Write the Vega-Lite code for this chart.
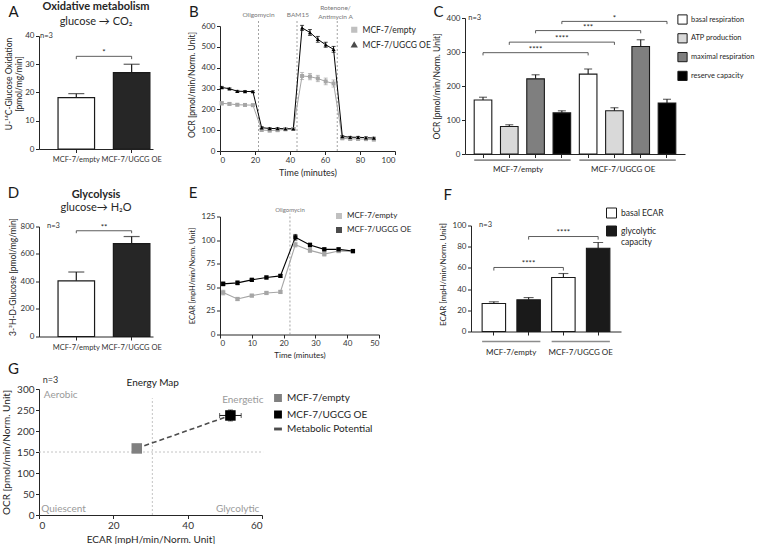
{
"$schema": "https://vega.github.io/schema/vega-lite/v6.json",
"padding": {"left": 1, "top": 0, "right": 0, "bottom": 0},
"background": "white",
"config": {
 "font": "Lato",
 "view": {"stroke": null},
 "axis": {"grid": false, "domainColor": "#262626", "tickColor": "#262626", "labelColor": "#333333", "titleColor": "#262626", "labelFontSize": 8, "titleFontSize": 8.5, "titleFontWeight": "normal", "tickSize": 3.5, "labelPadding": 1.5, "titlePadding": 4, "domainWidth": 1, "tickWidth": 1, "labelOverlap": false},
 "legend": {"labelFontSize": 8.5, "labelColor": "#262626", "rowPadding": 3, "labelLimit": 300},
 "text": {"color": "#262626"}
},
"datasets": {
 "A": [{"group": "MCF-7/empty", "v": 18.2, "hi": 19.6}, {"group": "MCF-7/UGCG OE", "v": 27.0, "hi": 30.0}],
 "A_sig": [{"a": "MCF-7/empty", "b": "MCF-7/UGCG OE", "y": 32.8, "y0": 31.8, "ty": 33.1, "s": "*"}],
 "D": [{"group": "MCF-7/empty", "v": 405, "hi": 469}, {"group": "MCF-7/UGCG OE", "v": 676, "hi": 727}],
 "D_sig": [{"a": "MCF-7/empty", "b": "MCF-7/UGCG OE", "y": 769, "y0": 751, "ty": 773, "s": "**"}],
 "B": [
  {"series": "MCF-7/empty", "t": 1.0, "v": 229, "sd": 8}, {"series": "MCF-7/empty", "t": 5.4, "v": 226, "sd": 6},
  {"series": "MCF-7/empty", "t": 9.9, "v": 222, "sd": 5}, {"series": "MCF-7/empty", "t": 14.3, "v": 221, "sd": 5},
  {"series": "MCF-7/empty", "t": 18.8, "v": 220, "sd": 5}, {"series": "MCF-7/empty", "t": 23.8, "v": 101, "sd": 6},
  {"series": "MCF-7/empty", "t": 28.4, "v": 98, "sd": 6}, {"series": "MCF-7/empty", "t": 32.9, "v": 100, "sd": 6},
  {"series": "MCF-7/empty", "t": 37.4, "v": 104, "sd": 4}, {"series": "MCF-7/empty", "t": 41.9, "v": 106, "sd": 4},
  {"series": "MCF-7/empty", "t": 46.9, "v": 360, "sd": 17}, {"series": "MCF-7/empty", "t": 51.4, "v": 357, "sd": 15},
  {"series": "MCF-7/empty", "t": 55.9, "v": 348, "sd": 15}, {"series": "MCF-7/empty", "t": 60.4, "v": 334, "sd": 16},
  {"series": "MCF-7/empty", "t": 64.9, "v": 324, "sd": 17}, {"series": "MCF-7/empty", "t": 69.9, "v": 61, "sd": 6},
  {"series": "MCF-7/empty", "t": 74.4, "v": 58, "sd": 6}, {"series": "MCF-7/empty", "t": 78.9, "v": 58, "sd": 6},
  {"series": "MCF-7/empty", "t": 83.4, "v": 57, "sd": 6}, {"series": "MCF-7/empty", "t": 87.9, "v": 55, "sd": 6},
  {"series": "MCF-7/UGCG OE", "t": 1.0, "v": 305, "sd": 5}, {"series": "MCF-7/UGCG OE", "t": 5.4, "v": 299, "sd": 4},
  {"series": "MCF-7/UGCG OE", "t": 9.9, "v": 287, "sd": 4}, {"series": "MCF-7/UGCG OE", "t": 14.3, "v": 286, "sd": 4},
  {"series": "MCF-7/UGCG OE", "t": 18.8, "v": 285, "sd": 4}, {"series": "MCF-7/UGCG OE", "t": 23.8, "v": 112, "sd": 5},
  {"series": "MCF-7/UGCG OE", "t": 28.4, "v": 108, "sd": 4}, {"series": "MCF-7/UGCG OE", "t": 32.9, "v": 108, "sd": 4},
  {"series": "MCF-7/UGCG OE", "t": 37.4, "v": 107, "sd": 4}, {"series": "MCF-7/UGCG OE", "t": 41.9, "v": 107, "sd": 4},
  {"series": "MCF-7/UGCG OE", "t": 46.9, "v": 591, "sd": 12}, {"series": "MCF-7/UGCG OE", "t": 51.4, "v": 569, "sd": 14},
  {"series": "MCF-7/UGCG OE", "t": 55.9, "v": 536, "sd": 14}, {"series": "MCF-7/UGCG OE", "t": 60.4, "v": 510, "sd": 12},
  {"series": "MCF-7/UGCG OE", "t": 64.9, "v": 488, "sd": 14}, {"series": "MCF-7/UGCG OE", "t": 69.9, "v": 70, "sd": 4},
  {"series": "MCF-7/UGCG OE", "t": 74.4, "v": 66, "sd": 4}, {"series": "MCF-7/UGCG OE", "t": 78.9, "v": 66, "sd": 4},
  {"series": "MCF-7/UGCG OE", "t": 83.4, "v": 64, "sd": 4}, {"series": "MCF-7/UGCG OE", "t": 87.9, "v": 62, "sd": 4}
 ],
 "E": [
  {"series": "MCF-7/empty", "t": 1.0, "v": 44.4, "sd": 2.5}, {"series": "MCF-7/empty", "t": 5.5, "v": 37.6, "sd": 1.5},
  {"series": "MCF-7/empty", "t": 10.0, "v": 41.2, "sd": 1.2}, {"series": "MCF-7/empty", "t": 14.6, "v": 44.0, "sd": 1.2},
  {"series": "MCF-7/empty", "t": 19.0, "v": 45.1, "sd": 1.2}, {"series": "MCF-7/empty", "t": 23.7, "v": 95.2, "sd": 2.5},
  {"series": "MCF-7/empty", "t": 28.3, "v": 89.1, "sd": 2}, {"series": "MCF-7/empty", "t": 32.8, "v": 85.2, "sd": 2},
  {"series": "MCF-7/empty", "t": 37.3, "v": 88.4, "sd": 1.5}, {"series": "MCF-7/empty", "t": 41.8, "v": 88.1, "sd": 1.5},
  {"series": "MCF-7/UGCG OE", "t": 1.0, "v": 53.6, "sd": 2}, {"series": "MCF-7/UGCG OE", "t": 5.5, "v": 54.7, "sd": 2},
  {"series": "MCF-7/UGCG OE", "t": 10.0, "v": 57.9, "sd": 1.5}, {"series": "MCF-7/UGCG OE", "t": 14.6, "v": 60.4, "sd": 1.5},
  {"series": "MCF-7/UGCG OE", "t": 19.0, "v": 62.1, "sd": 1.5}, {"series": "MCF-7/UGCG OE", "t": 23.7, "v": 103.0, "sd": 3},
  {"series": "MCF-7/UGCG OE", "t": 28.3, "v": 94.8, "sd": 2}, {"series": "MCF-7/UGCG OE", "t": 32.8, "v": 90.2, "sd": 1.5},
  {"series": "MCF-7/UGCG OE", "t": 37.3, "v": 90.2, "sd": 1.5}, {"series": "MCF-7/UGCG OE", "t": 41.8, "v": 88.4, "sd": 1.5}
 ],
 "C": [
  {"bar": "e1", "m": "basal respiration", "v": 159, "hi": 167},
  {"bar": "e2", "m": "ATP production", "v": 81, "hi": 86},
  {"bar": "e3", "m": "maximal respiration", "v": 221, "hi": 233},
  {"bar": "e4", "m": "reserve capacity", "v": 121, "hi": 127},
  {"bar": "o1", "m": "basal respiration", "v": 235, "hi": 250},
  {"bar": "o2", "m": "ATP production", "v": 127, "hi": 136},
  {"bar": "o3", "m": "maximal respiration", "v": 316, "hi": 336},
  {"bar": "o4", "m": "reserve capacity", "v": 150, "hi": 161}
 ],
 "C_sig": [
  {"a": "e1", "b": "o1", "mid": "e3", "y": 298, "y0": 290, "ty": 300, "s": "****"},
  {"a": "e2", "b": "o2", "mid": "e4", "y": 329, "y0": 321, "ty": 331, "s": "****"},
  {"a": "e3", "b": "o3", "mid": "o1", "y": 363, "y0": 355, "ty": 365, "s": "***"},
  {"a": "e4", "b": "o4", "mid": "o2", "y": 390, "y0": 382, "ty": 392, "s": "*"}
 ],
 "C_grp": [
  {"a": "e1", "b": "e4", "y": -18, "lx": "e2", "ly": -47, "label": "MCF-7/empty"},
  {"a": "o1", "b": "o4", "y": -18, "lx": "o2", "ly": -47, "label": "MCF-7/UGCG OE"}
 ],
 "F": [
  {"bar": "eb", "m": "basal ECAR", "v": 26.4, "hi": 28},
  {"bar": "eg", "m": "glycolytic capacity", "v": 29.9, "hi": 32},
  {"bar": "ob", "m": "basal ECAR", "v": 51, "hi": 54.7},
  {"bar": "og", "m": "glycolytic capacity", "v": 78.6, "hi": 84}
 ],
 "F_sig": [
  {"a": "eb", "b": "ob", "mid": "eg", "y": 60.4, "y0": 57.5, "ty": 61.6, "s": "****"},
  {"a": "eg", "b": "og", "mid": "ob", "y": 89.6, "y0": 86.7, "ty": 90.8, "s": "****"}
 ],
 "F_grp": [
  {"a": "eb", "b": "eg", "y": -9.5, "lx": "eb", "ly": -20, "label": "MCF-7/empty"},
  {"a": "ob", "b": "og", "y": -9.5, "lx": "ob", "ly": -20, "label": "MCF-7/UGCG OE"}
 ],
 "G_pts": [
  {"series": "MCF-7/empty", "ecar": 26.3, "ocr": 158.5, "ex": 1, "ey": 4},
  {"series": "MCF-7/UGCG OE", "ecar": 51.5, "ocr": 237, "ex": 2.9, "ey": 13}
 ],
 "G_line": [
  {"series": "Metabolic Potential", "ecar": 26.3, "ocr": 158.5},
  {"series": "Metabolic Potential", "ecar": 51.5, "ocr": 237}
 ]
},
"spacing": 8.5,
"bounds": "full",
"resolve": {"scale": {"color": "independent", "fill": "independent", "shape": "independent"}},
"vconcat": [
 {
  "hconcat": [
   {
    "width": 114, "height": 131,
    "layer": [
     {"data": {"name": "A"}, "mark": {"type": "bar", "stroke": "#1a1a1a", "strokeWidth": 1.2},
      "encoding": {
       "x": {"field": "group", "type": "nominal", "sort": null, "scale": {"paddingInner": 0.34, "paddingOuter": 0.2, "align": 0.86}, "axis": {"title": null, "labelAngle": 0, "labelFontSize": 7.5, "labelPadding": 3}},
       "y": {"field": "v", "type": "quantitative", "scale": {"domain": [0, 46.37], "nice": false}, "axis": {"title": ["U-¹⁴C-Glucose Oxidation", "[pmol/mg/min]"], "values": [0, 10, 20, 30, 40], "tickCount": 50, "titlePadding": 1, "domainDash": [113, 1000]}},
       "fill": {"field": "group", "type": "nominal", "sort": null, "scale": {"range": ["#ffffff", "#262626"]}, "legend": null}}},
     {"data": {"name": "A"}, "mark": {"type": "rule", "color": "#1a1a1a", "strokeWidth": 1.2},
      "encoding": {"x": {"field": "group", "type": "nominal", "sort": null}, "y": {"field": "v", "type": "quantitative"}, "y2": {"field": "hi"}}},
     {"data": {"name": "A"}, "mark": {"type": "tick", "color": "#1a1a1a", "thickness": 1.2, "size": 16},
      "encoding": {"x": {"field": "group", "type": "nominal", "sort": null}, "y": {"field": "hi", "type": "quantitative"}}},
     {"data": {"name": "A_sig"}, "mark": {"type": "rule", "color": "#333333", "strokeWidth": 0.8},
      "encoding": {"x": {"field": "a", "type": "nominal", "sort": null}, "x2": {"field": "b"}, "y": {"field": "y", "type": "quantitative"}}},
     {"data": {"name": "A_sig"}, "mark": {"type": "rule", "color": "#333333", "strokeWidth": 0.8},
      "encoding": {"x": {"field": "a", "type": "nominal", "sort": null}, "y": {"field": "y", "type": "quantitative"}, "y2": {"field": "y0"}}},
     {"data": {"name": "A_sig"}, "mark": {"type": "rule", "color": "#333333", "strokeWidth": 0.8},
      "encoding": {"x": {"field": "b", "type": "nominal", "sort": null}, "y": {"field": "y", "type": "quantitative"}, "y2": {"field": "y0"}}},
     {"data": {"name": "A_sig"}, "mark": {"type": "text", "fontSize": 8, "baseline": "alphabetic"},
      "encoding": {"x": {"field": "a", "type": "nominal", "sort": null, "bandPosition": 1.26}, "y": {"field": "ty", "type": "quantitative"}, "text": {"field": "s"}}},
     {"data": {"values": [{"g": "MCF-7/empty", "y": 40, "t": "n=3"}]}, "mark": {"type": "text", "fontSize": 7.5, "align": "left", "dx": -18, "color": "#333333"},
      "encoding": {"x": {"field": "g", "type": "nominal", "sort": null, "bandPosition": 0}, "y": {"field": "y", "type": "quantitative"}, "text": {"field": "t"}}},
     {"data": {"values": [{"g": "MCF-7/empty", "y": 48.5, "t": "A"}]}, "mark": {"type": "text", "fontSize": 15, "color": "#1a1a1a"},
      "encoding": {"x": {"field": "g", "type": "nominal", "sort": null, "bandPosition": -1.219}, "y": {"field": "y", "type": "quantitative"}, "text": {"field": "t"}}},
     {"data": {"values": [{"y": 50.3, "t": "Oxidative metabolism"}]}, "mark": {"type": "text", "fontSize": 11, "fontWeight": "bold"},
      "encoding": {"y": {"field": "y", "type": "quantitative"}, "text": {"field": "t"}}},
     {"data": {"values": [{"y": 45, "t": "glucose → CO₂"}]}, "mark": {"type": "text", "fontSize": 11},
      "encoding": {"y": {"field": "y", "type": "quantitative"}, "text": {"field": "t"}}}
    ]
   },
   {
    "hconcat": [
     {
      "width": 175, "height": 133,
      "layer": [
       {"data": {"values": [{"t": 22, "y0": 0, "y1": 630}, {"t": 44, "y0": 0, "y1": 630}, {"t": 67, "y0": 0, "y1": 630}]},
        "mark": {"type": "rule", "strokeDash": [2, 2], "color": "#8c8c8c", "strokeWidth": 0.8},
        "encoding": {
         "x": {"field": "t", "type": "quantitative", "scale": {"domain": [0, 100], "nice": false}, "axis": {"title": "Time (minutes)", "values": [0, 20, 40, 60, 80, 100], "tickCount": 50, "titleFontSize": 9}},
         "y": {"field": "y0", "type": "quantitative", "scale": {"domain": [0, 638.4], "nice": false}, "axis": {"title": "OCR [pmol/min/Norm. Unit]", "values": [0, 100, 200, 300, 400, 500, 600], "tickCount": 50, "titlePadding": 5, "domainDash": [125, 1000]}},
         "y2": {"field": "y1"}}},
       {"data": {"values": [{"t": 22, "y": 651, "label": "Oligomycin"}, {"t": 44.5, "y": 651, "label": "BAM15"}, {"t": 66, "y": 686, "label": "Rotenone/"}, {"t": 66, "y": 643, "label": "Antimycin A"}]},
        "mark": {"type": "text", "fontSize": 6.5, "color": "#777777"},
        "encoding": {"x": {"field": "t", "type": "quantitative"}, "y": {"field": "y", "type": "quantitative"}, "text": {"field": "label"}}},
       {"data": {"values": [{"t": -14.9, "y": 667, "label": "B"}]},
        "mark": {"type": "text", "fontSize": 15, "color": "#1a1a1a"},
        "encoding": {"x": {"field": "t", "type": "quantitative"}, "y": {"field": "y", "type": "quantitative"}, "text": {"field": "label"}}},
       {"data": {"name": "B"}, "mark": {"type": "errorbar", "ticks": true, "size": 4, "thickness": 1},
        "encoding": {"x": {"field": "t", "type": "quantitative", "title": "Time (minutes)"}, "y": {"field": "v", "type": "quantitative", "title": "OCR [pmol/min/Norm. Unit]"}, "yError": {"field": "sd"},
         "color": {"field": "series", "type": "nominal", "scale": {"domain": ["MCF-7/empty", "MCF-7/UGCG OE"], "range": ["#a6a6a6", "#000000"]}}}},
       {"data": {"name": "B"}, "mark": {"type": "line", "strokeWidth": 1},
        "encoding": {"x": {"field": "t", "type": "quantitative"}, "y": {"field": "v", "type": "quantitative"}, "color": {"field": "series", "type": "nominal"}}},
       {"data": {"name": "B"}, "mark": {"type": "point", "filled": true, "size": 16, "opacity": 1},
        "encoding": {"x": {"field": "t", "type": "quantitative"}, "y": {"field": "v", "type": "quantitative"},
         "color": {"field": "series", "type": "nominal", "legend": {"orient": "none", "legendX": 130, "legendY": 7.5, "title": null, "symbolSize": 22, "rowPadding": 4}},
         "shape": {"field": "series", "type": "nominal", "scale": {"domain": ["MCF-7/empty", "MCF-7/UGCG OE"], "range": ["square", "triangle-up"]}, "legend": {"orient": "none", "legendX": 130, "legendY": 7.5, "title": null, "symbolSize": 22, "rowPadding": 4}}}}
      ]
     },
     {
      "width": 220, "height": 136,
      "layer": [
       {"data": {"name": "C"}, "mark": {"type": "bar", "stroke": "#1a1a1a", "strokeWidth": 1.1},
        "encoding": {
         "x": {"field": "bar", "type": "nominal", "sort": null, "scale": {"paddingInner": 0.33, "paddingOuter": 0.35}, "axis": {"title": null, "labels": false}},
         "y": {"field": "v", "type": "quantitative", "scale": {"domain": [0, 400], "nice": false}, "axis": {"title": "OCR [pmol/min/Norm. Unit]", "values": [0, 100, 200, 300, 400], "tickCount": 50, "titlePadding": 5}},
         "fill": {"field": "m", "type": "nominal", "scale": {"domain": ["basal respiration", "ATP production", "maximal respiration", "reserve capacity"], "range": ["#ffffff", "#d9d9d9", "#7f7f7f", "#000000"]},
          "legend": {"orient": "none", "legendX": 212, "legendY": -4, "title": null, "symbolType": "square", "symbolSize": 85, "symbolStrokeColor": "#1a1a1a", "symbolStrokeWidth": 1, "rowPadding": 3.8, "labelFontSize": 7.4, "labelOffset": 3}}}},
       {"data": {"name": "C"}, "mark": {"type": "rule", "color": "#1a1a1a", "strokeWidth": 1.1},
        "encoding": {"x": {"field": "bar", "type": "nominal", "sort": null}, "y": {"field": "v", "type": "quantitative"}, "y2": {"field": "hi"}}},
       {"data": {"name": "C"}, "mark": {"type": "tick", "color": "#1a1a1a", "thickness": 1.1, "size": 8},
        "encoding": {"x": {"field": "bar", "type": "nominal", "sort": null}, "y": {"field": "hi", "type": "quantitative"}}},
       {"data": {"name": "C_sig"}, "mark": {"type": "rule", "color": "#333333", "strokeWidth": 0.8},
        "encoding": {"x": {"field": "a", "type": "nominal", "sort": null}, "x2": {"field": "b"}, "y": {"field": "y", "type": "quantitative"}}},
       {"data": {"name": "C_sig"}, "mark": {"type": "rule", "color": "#333333", "strokeWidth": 0.8},
        "encoding": {"x": {"field": "a", "type": "nominal", "sort": null}, "y": {"field": "y", "type": "quantitative"}, "y2": {"field": "y0"}}},
       {"data": {"name": "C_sig"}, "mark": {"type": "rule", "color": "#333333", "strokeWidth": 0.8},
        "encoding": {"x": {"field": "b", "type": "nominal", "sort": null}, "y": {"field": "y", "type": "quantitative"}, "y2": {"field": "y0"}}},
       {"data": {"name": "C_sig"}, "mark": {"type": "text", "fontSize": 8, "baseline": "alphabetic"},
        "encoding": {"x": {"field": "mid", "type": "nominal", "sort": null}, "y": {"field": "ty", "type": "quantitative"}, "text": {"field": "s"}}},
       {"data": {"name": "C_grp"}, "mark": {"type": "rule", "color": "#8c8c8c", "strokeWidth": 1.6},
        "encoding": {"x": {"field": "a", "type": "nominal", "sort": null, "bandPosition": 0}, "x2": {"field": "b", "bandPosition": 1}, "y": {"field": "y", "type": "quantitative"}}},
       {"data": {"name": "C_grp"}, "mark": {"type": "text", "fontSize": 8},
        "encoding": {"x": {"field": "lx", "type": "nominal", "sort": null, "bandPosition": 1}, "y": {"field": "ly", "type": "quantitative"}, "text": {"field": "label"}}},
       {"data": {"values": [{"g": "e1", "y": 400, "t": "n=3"}]}, "mark": {"type": "text", "fontSize": 7.5, "align": "left", "dx": -6, "color": "#333333"},
        "encoding": {"x": {"field": "g", "type": "nominal", "sort": null, "bandPosition": 0}, "y": {"field": "y", "type": "quantitative"}, "text": {"field": "t"}}},
       {"data": {"values": [{"g": "e1", "y": 417.6, "t": "C"}]}, "mark": {"type": "text", "fontSize": 15, "color": "#1a1a1a"},
        "encoding": {"x": {"field": "g", "type": "nominal", "sort": null, "bandPosition": -2.02}, "y": {"field": "y", "type": "quantitative"}, "text": {"field": "t"}}}
      ]
     }
    ],
    "spacing": 1,
    "bounds": "full",
    "resolve": {"scale": {"color": "independent", "fill": "independent", "shape": "independent"}}
   }
  ],
  "spacing": 25,
  "bounds": "full",
  "resolve": {"scale": {"color": "independent", "fill": "independent", "shape": "independent"}}
 },
 {
  "vconcat": [
   {
    "hconcat": [
     {
      "width": 114, "height": 120,
      "layer": [
       {"data": {"name": "D"}, "mark": {"type": "bar", "stroke": "#1a1a1a", "strokeWidth": 1.2},
        "encoding": {
         "x": {"field": "group", "type": "nominal", "sort": null, "scale": {"paddingInner": 0.34, "paddingOuter": 0.2, "align": 0.86}, "axis": {"title": null, "labelAngle": 0, "labelFontSize": 7.5, "labelPadding": 3}},
         "y": {"field": "v", "type": "quantitative", "scale": {"domain": [0, 872.7], "nice": false}, "axis": {"title": "3-³H-D-Glucose [pmol/mg/min]", "values": [0, 200, 400, 600, 800], "tickCount": 50, "titlePadding": 3, "domainDash": [110, 1000]}},
         "fill": {"field": "group", "type": "nominal", "sort": null, "scale": {"range": ["#ffffff", "#262626"]}, "legend": null}}},
       {"data": {"name": "D"}, "mark": {"type": "rule", "color": "#1a1a1a", "strokeWidth": 1.2},
        "encoding": {"x": {"field": "group", "type": "nominal", "sort": null}, "y": {"field": "v", "type": "quantitative"}, "y2": {"field": "hi"}}},
       {"data": {"name": "D"}, "mark": {"type": "tick", "color": "#1a1a1a", "thickness": 1.2, "size": 16},
        "encoding": {"x": {"field": "group", "type": "nominal", "sort": null}, "y": {"field": "hi", "type": "quantitative"}}},
       {"data": {"name": "D_sig"}, "mark": {"type": "rule", "color": "#333333", "strokeWidth": 0.8},
        "encoding": {"x": {"field": "a", "type": "nominal", "sort": null}, "x2": {"field": "b"}, "y": {"field": "y", "type": "quantitative"}}},
       {"data": {"name": "D_sig"}, "mark": {"type": "rule", "color": "#333333", "strokeWidth": 0.8},
        "encoding": {"x": {"field": "a", "type": "nominal", "sort": null}, "y": {"field": "y", "type": "quantitative"}, "y2": {"field": "y0"}}},
       {"data": {"name": "D_sig"}, "mark": {"type": "rule", "color": "#333333", "strokeWidth": 0.8},
        "encoding": {"x": {"field": "b", "type": "nominal", "sort": null}, "y": {"field": "y", "type": "quantitative"}, "y2": {"field": "y0"}}},
       {"data": {"name": "D_sig"}, "mark": {"type": "text", "fontSize": 8, "baseline": "alphabetic"},
        "encoding": {"x": {"field": "a", "type": "nominal", "sort": null, "bandPosition": 1.26}, "y": {"field": "ty", "type": "quantitative"}, "text": {"field": "s"}}},
       {"data": {"values": [{"g": "MCF-7/empty", "y": 800, "t": "n=3"}]}, "mark": {"type": "text", "fontSize": 7.5, "align": "left", "dx": -11, "color": "#333333"},
        "encoding": {"x": {"field": "g", "type": "nominal", "sort": null, "bandPosition": 0}, "y": {"field": "y", "type": "quantitative"}, "text": {"field": "t"}}},
       {"data": {"values": [{"g": "MCF-7/empty", "y": 1047, "t": "D"}]}, "mark": {"type": "text", "fontSize": 15, "color": "#1a1a1a"},
        "encoding": {"x": {"field": "g", "type": "nominal", "sort": null, "bandPosition": -1.219}, "y": {"field": "y", "type": "quantitative"}, "text": {"field": "t"}}},
       {"data": {"values": [{"y": 1029, "t": "Glycolysis"}]}, "mark": {"type": "text", "fontSize": 11, "fontWeight": "bold"},
        "encoding": {"y": {"field": "y", "type": "quantitative"}, "text": {"field": "t"}}},
       {"data": {"values": [{"y": 931, "t": "glucose→ H₂O"}]}, "mark": {"type": "text", "fontSize": 11},
        "encoding": {"y": {"field": "y", "type": "quantitative"}, "text": {"field": "t"}}}
      ]
     },
     {
      "hconcat": [
       {
        "width": 159, "height": 118,
        "layer": [
         {"data": {"values": [{"t": 22, "y0": 0, "y1": 128}]},
          "mark": {"type": "rule", "strokeDash": [2, 2], "color": "#8c8c8c", "strokeWidth": 0.8},
          "encoding": {
           "x": {"field": "t", "type": "quantitative", "scale": {"domain": [0, 50], "nice": false}, "axis": {"title": "Time (minutes)", "values": [0, 10, 20, 30, 40, 50], "tickCount": 50, "titleFontSize": 8}},
           "y": {"field": "y0", "type": "quantitative", "scale": {"domain": [0, 125], "nice": false}, "axis": {"title": "ECAR [mpH/min/Norm. Unit]", "values": [0, 25, 50, 75, 100, 125], "tickCount": 50, "titleFontSize": 7.5, "titlePadding": 5}},
           "y2": {"field": "y1"}}},
         {"data": {"values": [{"t": 22, "y": 131.5, "label": "Oligomycin"}]},
          "mark": {"type": "text", "fontSize": 6, "color": "#777777"},
          "encoding": {"x": {"field": "t", "type": "quantitative"}, "y": {"field": "y", "type": "quantitative"}, "text": {"field": "label"}}},
         {"data": {"values": [{"t": -8.5, "y": 150.4, "label": "E"}]},
          "mark": {"type": "text", "fontSize": 15, "color": "#1a1a1a"},
          "encoding": {"x": {"field": "t", "type": "quantitative"}, "y": {"field": "y", "type": "quantitative"}, "text": {"field": "label"}}},
         {"data": {"name": "E"}, "mark": {"type": "errorbar", "ticks": true, "size": 4, "thickness": 1},
          "encoding": {"x": {"field": "t", "type": "quantitative", "title": "Time (minutes)"}, "y": {"field": "v", "type": "quantitative", "title": "ECAR [mpH/min/Norm. Unit]"}, "yError": {"field": "sd"},
           "color": {"field": "series", "type": "nominal", "scale": {"domain": ["MCF-7/empty", "MCF-7/UGCG OE"], "range": ["#a6a6a6", "#000000"]}}}},
         {"data": {"name": "E"}, "mark": {"type": "line", "strokeWidth": 1.1},
          "encoding": {"x": {"field": "t", "type": "quantitative"}, "y": {"field": "v", "type": "quantitative"}, "color": {"field": "series", "type": "nominal"}}},
         {"data": {"name": "E"}, "mark": {"type": "point", "shape": "square", "filled": true, "size": 18, "opacity": 1},
          "encoding": {"x": {"field": "t", "type": "quantitative"}, "y": {"field": "v", "type": "quantitative"},
           "color": {"field": "series", "type": "nominal", "legend": {"orient": "none", "legendX": 115, "legendY": -4.5, "title": null, "labelFontSize": 8, "symbolType": "square", "symbolSize": 20, "rowPadding": 2}}}}
        ]
       },
       {
        "width": 150, "height": 115,
        "layer": [
         {"data": {"name": "F"}, "mark": {"type": "bar", "stroke": "#1a1a1a", "strokeWidth": 1.1},
          "encoding": {
           "x": {"field": "bar", "type": "nominal", "sort": null, "scale": {"paddingInner": 0.325, "paddingOuter": 0.32}, "axis": {"title": null, "labels": false}},
           "y": {"field": "v", "type": "quantitative", "scale": {"domain": [0, 108.49], "nice": false}, "axis": {"title": "ECAR [mpH/min/Norm. Unit]", "values": [0, 20, 40, 60, 80, 100], "tickCount": 50, "titleFontSize": 8, "titlePadding": 5, "domainDash": [106, 1000]}},
           "fill": {"field": "m", "type": "nominal", "scale": {"domain": ["basal ECAR", "glycolytic capacity"], "range": ["#ffffff", "#1a1a1a"]},
            "legend": {"orient": "none", "legendX": 135, "legendY": -9, "title": null, "symbolType": "square", "symbolSize": 100, "symbolStrokeColor": "#1a1a1a", "symbolStrokeWidth": 1, "labelExpr": "datum.label == 'glycolytic capacity' ? ['glycolytic', 'capacity'] : datum.label"}}}},
         {"data": {"name": "F"}, "mark": {"type": "rule", "color": "#1a1a1a", "strokeWidth": 1.1},
          "encoding": {"x": {"field": "bar", "type": "nominal", "sort": null}, "y": {"field": "v", "type": "quantitative"}, "y2": {"field": "hi"}}},
         {"data": {"name": "F"}, "mark": {"type": "tick", "color": "#1a1a1a", "thickness": 1.1, "size": 10},
          "encoding": {"x": {"field": "bar", "type": "nominal", "sort": null}, "y": {"field": "hi", "type": "quantitative"}}},
         {"data": {"name": "F_sig"}, "mark": {"type": "rule", "color": "#333333", "strokeWidth": 0.8},
          "encoding": {"x": {"field": "a", "type": "nominal", "sort": null}, "x2": {"field": "b"}, "y": {"field": "y", "type": "quantitative"}}},
         {"data": {"name": "F_sig"}, "mark": {"type": "rule", "color": "#333333", "strokeWidth": 0.8},
          "encoding": {"x": {"field": "a", "type": "nominal", "sort": null}, "y": {"field": "y", "type": "quantitative"}, "y2": {"field": "y0"}}},
         {"data": {"name": "F_sig"}, "mark": {"type": "rule", "color": "#333333", "strokeWidth": 0.8},
          "encoding": {"x": {"field": "b", "type": "nominal", "sort": null}, "y": {"field": "y", "type": "quantitative"}, "y2": {"field": "y0"}}},
         {"data": {"name": "F_sig"}, "mark": {"type": "text", "fontSize": 8, "baseline": "alphabetic"},
          "encoding": {"x": {"field": "mid", "type": "nominal", "sort": null}, "y": {"field": "ty", "type": "quantitative"}, "text": {"field": "s"}}},
         {"data": {"name": "F_grp"}, "mark": {"type": "rule", "color": "#8c8c8c", "strokeWidth": 1.6},
          "encoding": {"x": {"field": "a", "type": "nominal", "sort": null, "bandPosition": 0}, "x2": {"field": "b", "bandPosition": 1}, "y": {"field": "y", "type": "quantitative"}}},
         {"data": {"name": "F_grp"}, "mark": {"type": "text", "fontSize": 8},
          "encoding": {"x": {"field": "lx", "type": "nominal", "sort": null, "bandPosition": 1.24}, "y": {"field": "ly", "type": "quantitative"}, "text": {"field": "label"}}},
         {"data": {"values": [{"g": "eb", "y": 100, "t": "n=3"}]}, "mark": {"type": "text", "fontSize": 7.5, "align": "left", "dx": -3, "color": "#333333"},
          "encoding": {"x": {"field": "g", "type": "nominal", "sort": null, "bandPosition": 0}, "y": {"field": "y", "type": "quantitative"}, "text": {"field": "t"}}},
         {"data": {"values": [{"g": "eb", "y": 128.8, "t": "F"}]}, "mark": {"type": "text", "fontSize": 15, "color": "#1a1a1a"},
          "encoding": {"x": {"field": "g", "type": "nominal", "sort": null, "bandPosition": -1.468}, "y": {"field": "y", "type": "quantitative"}, "text": {"field": "t"}}}
        ]
       }
      ],
      "spacing": 27,
      "bounds": "full",
      "resolve": {"scale": {"color": "independent", "fill": "independent", "shape": "independent"}}
     }
    ],
    "spacing": 26,
    "bounds": "full",
    "resolve": {"scale": {"color": "independent", "fill": "independent", "shape": "independent"}}
   },
   {
    "width": 223, "height": 126,
    "layer": [
     {"data": {"values": [{"x": 30.5, "y0": 0, "y1": 278}]},
      "mark": {"type": "rule", "strokeDash": [2, 2], "color": "#bdbdbd", "strokeWidth": 0.9},
      "encoding": {
       "x": {"field": "x", "type": "quantitative", "scale": {"domain": [0, 60], "nice": false}, "axis": {"title": "ECAR [mpH/min/Norm. Unit]", "values": [0, 20, 40, 60], "tickCount": 50, "labelFontSize": 10, "titleFontSize": 10}},
       "y": {"field": "y0", "type": "quantitative", "scale": {"domain": [0, 300], "nice": false}, "axis": {"title": "OCR [pmol/min/Norm. Unit]", "values": [0, 50, 100, 150, 200, 250, 300], "tickCount": 50, "labelFontSize": 10, "titleFontSize": 10, "titlePadding": 5}},
       "y2": {"field": "y1"}}},
     {"data": {"values": [{"x0": 0, "x1": 60.3, "y": 150}]},
      "mark": {"type": "rule", "strokeDash": [2, 2], "color": "#bdbdbd", "strokeWidth": 0.9},
      "encoding": {"x": {"field": "x0", "type": "quantitative"}, "x2": {"field": "x1"}, "y": {"field": "y", "type": "quantitative"}}},
     {"data": {"values": [{"t": "Aerobic", "x": 1.3, "y": 285}, {"t": "Quiescent", "x": 0.6, "y": 14.5}]},
      "mark": {"type": "text", "fontSize": 10, "align": "left", "color": "#9a9a9a"},
      "encoding": {"x": {"field": "x", "type": "quantitative"}, "y": {"field": "y", "type": "quantitative"}, "text": {"field": "t"}}},
     {"data": {"values": [{"t": "Energetic", "x": 60.4, "y": 275}, {"t": "Glycolytic", "x": 59.3, "y": 14.5}]},
      "mark": {"type": "text", "fontSize": 10, "align": "right", "color": "#9a9a9a"},
      "encoding": {"x": {"field": "x", "type": "quantitative"}, "y": {"field": "y", "type": "quantitative"}, "text": {"field": "t"}}},
     {"data": {"values": [{"t": "Energy Map", "x": 30.6, "y": 315}]},
      "mark": {"type": "text", "fontSize": 10, "color": "#1a1a1a"},
      "encoding": {"x": {"field": "x", "type": "quantitative"}, "y": {"field": "y", "type": "quantitative"}, "text": {"field": "t"}}},
     {"data": {"values": [{"t": "n=3", "x": 1.0, "y": 321}]},
      "mark": {"type": "text", "fontSize": 9, "align": "left", "color": "#333333"},
      "encoding": {"x": {"field": "x", "type": "quantitative"}, "y": {"field": "y", "type": "quantitative"}, "text": {"field": "t"}}},
     {"data": {"values": [{"t": "G", "x": -6.86, "y": 347.6}]},
      "mark": {"type": "text", "fontSize": 15, "color": "#1a1a1a"},
      "encoding": {"x": {"field": "x", "type": "quantitative"}, "y": {"field": "y", "type": "quantitative"}, "text": {"field": "t"}}},
     {"data": {"name": "G_line"}, "mark": {"type": "line", "strokeDash": [5, 3], "strokeWidth": 1.6},
      "encoding": {"x": {"field": "ecar", "type": "quantitative"}, "y": {"field": "ocr", "type": "quantitative"}, "color": {"field": "series", "type": "nominal"}}},
     {"data": {"name": "G_pts"}, "mark": {"type": "errorbar", "ticks": true, "size": 5, "thickness": 1, "color": "#1a1a1a"},
      "encoding": {"x": {"field": "ecar", "type": "quantitative", "title": "ECAR [mpH/min/Norm. Unit]"}, "y": {"field": "ocr", "type": "quantitative", "title": "OCR [pmol/min/Norm. Unit]"}, "yError": {"field": "ey"}}},
     {"data": {"name": "G_pts"}, "mark": {"type": "errorbar", "ticks": true, "size": 5, "thickness": 1, "color": "#1a1a1a"},
      "encoding": {"x": {"field": "ecar", "type": "quantitative", "title": "ECAR [mpH/min/Norm. Unit]"}, "y": {"field": "ocr", "type": "quantitative", "title": "OCR [pmol/min/Norm. Unit]"}, "xError": {"field": "ex"}}},
     {"data": {"name": "G_pts"}, "mark": {"type": "point", "filled": true, "size": 110, "opacity": 1},
      "encoding": {"x": {"field": "ecar", "type": "quantitative"}, "y": {"field": "ocr", "type": "quantitative"},
       "color": {"field": "series", "type": "nominal", "scale": {"domain": ["MCF-7/empty", "MCF-7/UGCG OE", "Metabolic Potential"], "range": ["#808080", "#000000", "#4d4d4d"]}, "legend": {"orient": "none", "legendX": 234, "legendY": 4, "title": null, "labelFontSize": 10, "symbolSize": 40, "rowPadding": 2.5}},
       "shape": {"field": "series", "type": "nominal", "scale": {"domain": ["MCF-7/empty", "MCF-7/UGCG OE", "Metabolic Potential"], "range": ["square", "square", "M-1,-0.22H1V0.22H-1Z"]}, "legend": {"orient": "none", "legendX": 234, "legendY": 4, "title": null, "labelFontSize": 10, "symbolSize": 40, "rowPadding": 2.5}}}}
    ]
   }
  ],
  "spacing": 2.5,
  "bounds": "full",
  "resolve": {"scale": {"color": "independent", "fill": "independent", "shape": "independent"}}
 }
]
}
